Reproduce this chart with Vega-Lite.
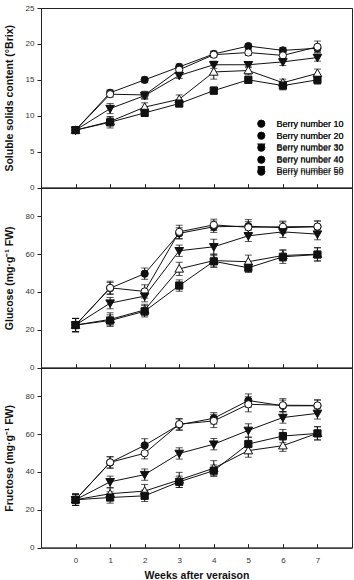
{
  "$schema": "https://vega.github.io/schema/vega-lite/v6.json",
  "padding": {"left": 3, "top": 3, "right": 2, "bottom": 0},
  "background": "white",
  "datasets": {
    "berry": [
      {"group": "Berry number 10", "week": 0, "brix": 8.0, "brix_e": 0.4, "glu": 22.5, "glu_e": 3.5, "fru": 25.3, "fru_e": 3.0},
      {"group": "Berry number 10", "week": 1, "brix": 13.2, "brix_e": 0.4, "glu": 42.0, "glu_e": 3.0, "fru": 45.0, "fru_e": 3.0},
      {"group": "Berry number 10", "week": 2, "brix": 15.0, "brix_e": 0.4, "glu": 49.7, "glu_e": 3.0, "fru": 54.1, "fru_e": 3.5},
      {"group": "Berry number 10", "week": 3, "brix": 16.8, "brix_e": 0.4, "glu": 71.0, "glu_e": 3.0, "fru": 65.0, "fru_e": 3.0},
      {"group": "Berry number 10", "week": 4, "brix": 18.6, "brix_e": 0.4, "glu": 74.5, "glu_e": 3.0, "fru": 68.4, "fru_e": 3.0},
      {"group": "Berry number 10", "week": 5, "brix": 19.7, "brix_e": 0.3, "glu": 74.8, "glu_e": 3.5, "fru": 77.8, "fru_e": 3.5},
      {"group": "Berry number 10", "week": 6, "brix": 19.1, "brix_e": 0.4, "glu": 74.0, "glu_e": 3.0, "fru": 75.0, "fru_e": 3.0},
      {"group": "Berry number 10", "week": 7, "brix": 19.4, "brix_e": 0.4, "glu": 74.5, "glu_e": 3.0, "fru": 75.0, "fru_e": 3.0},
      {"group": "Berry number 20", "week": 0, "brix": 8.0, "brix_e": 0.4, "glu": 22.5, "glu_e": 3.5, "fru": 25.3, "fru_e": 3.0},
      {"group": "Berry number 20", "week": 1, "brix": 13.0, "brix_e": 0.4, "glu": 42.2, "glu_e": 3.5, "fru": 45.1, "fru_e": 3.0},
      {"group": "Berry number 20", "week": 2, "brix": 12.9, "brix_e": 0.5, "glu": 40.3, "glu_e": 3.5, "fru": 49.9, "fru_e": 3.0},
      {"group": "Berry number 20", "week": 3, "brix": 16.4, "brix_e": 0.4, "glu": 71.8, "glu_e": 3.5, "fru": 65.3, "fru_e": 3.0},
      {"group": "Berry number 20", "week": 4, "brix": 18.5, "brix_e": 0.4, "glu": 75.5, "glu_e": 3.0, "fru": 67.0, "fru_e": 3.5},
      {"group": "Berry number 20", "week": 5, "brix": 18.8, "brix_e": 0.4, "glu": 74.2, "glu_e": 3.0, "fru": 75.8, "fru_e": 4.0},
      {"group": "Berry number 20", "week": 6, "brix": 18.4, "brix_e": 0.4, "glu": 74.5, "glu_e": 3.0, "fru": 75.3, "fru_e": 3.5},
      {"group": "Berry number 20", "week": 7, "brix": 19.6, "brix_e": 0.8, "glu": 74.6, "glu_e": 3.0, "fru": 75.2, "fru_e": 3.0},
      {"group": "Berry number 30", "week": 0, "brix": 8.0, "brix_e": 0.4, "glu": 22.5, "glu_e": 3.5, "fru": 25.3, "fru_e": 3.0},
      {"group": "Berry number 30", "week": 1, "brix": 11.0, "brix_e": 0.7, "glu": 34.1, "glu_e": 3.0, "fru": 34.8, "fru_e": 3.0},
      {"group": "Berry number 30", "week": 2, "brix": 12.8, "brix_e": 0.5, "glu": 37.8, "glu_e": 3.0, "fru": 38.6, "fru_e": 3.0},
      {"group": "Berry number 30", "week": 3, "brix": 15.6, "brix_e": 0.4, "glu": 61.8, "glu_e": 3.0, "fru": 49.8, "fru_e": 3.0},
      {"group": "Berry number 30", "week": 4, "brix": 17.1, "brix_e": 0.5, "glu": 63.9, "glu_e": 4.0, "fru": 54.7, "fru_e": 3.0},
      {"group": "Berry number 30", "week": 5, "brix": 17.1, "brix_e": 0.4, "glu": 69.7, "glu_e": 3.0, "fru": 62.0, "fru_e": 3.5},
      {"group": "Berry number 30", "week": 6, "brix": 17.5, "brix_e": 0.5, "glu": 71.8, "glu_e": 3.0, "fru": 68.8, "fru_e": 3.0},
      {"group": "Berry number 30", "week": 7, "brix": 18.1, "brix_e": 0.5, "glu": 70.6, "glu_e": 3.0, "fru": 71.0, "fru_e": 3.0},
      {"group": "Berry number 40", "week": 0, "brix": 8.0, "brix_e": 0.4, "glu": 22.5, "glu_e": 3.5, "fru": 25.3, "fru_e": 3.0},
      {"group": "Berry number 40", "week": 1, "brix": 9.2, "brix_e": 0.6, "glu": 25.5, "glu_e": 3.5, "fru": 28.5, "fru_e": 3.0},
      {"group": "Berry number 40", "week": 2, "brix": 11.2, "brix_e": 0.6, "glu": 30.5, "glu_e": 3.0, "fru": 29.9, "fru_e": 3.5},
      {"group": "Berry number 40", "week": 3, "brix": 12.3, "brix_e": 0.6, "glu": 52.2, "glu_e": 3.5, "fru": 35.8, "fru_e": 4.0},
      {"group": "Berry number 40", "week": 4, "brix": 16.1, "brix_e": 1.0, "glu": 56.6, "glu_e": 3.5, "fru": 42.0, "fru_e": 4.0},
      {"group": "Berry number 40", "week": 5, "brix": 16.3, "brix_e": 0.6, "glu": 56.0, "glu_e": 3.5, "fru": 51.3, "fru_e": 3.5},
      {"group": "Berry number 40", "week": 6, "brix": 14.6, "brix_e": 0.5, "glu": 59.3, "glu_e": 3.0, "fru": 53.9, "fru_e": 3.0},
      {"group": "Berry number 40", "week": 7, "brix": 15.9, "brix_e": 0.6, "glu": 60.0, "glu_e": 3.5, "fru": 60.5, "fru_e": 3.5},
      {"group": "Berry number 50", "week": 0, "brix": 8.0, "brix_e": 0.4, "glu": 22.5, "glu_e": 3.5, "fru": 25.3, "fru_e": 3.0},
      {"group": "Berry number 50", "week": 1, "brix": 9.1, "brix_e": 0.8, "glu": 24.9, "glu_e": 3.0, "fru": 26.5, "fru_e": 3.0},
      {"group": "Berry number 50", "week": 2, "brix": 10.4, "brix_e": 0.4, "glu": 29.8, "glu_e": 3.0, "fru": 27.4, "fru_e": 3.0},
      {"group": "Berry number 50", "week": 3, "brix": 11.7, "brix_e": 0.4, "glu": 43.4, "glu_e": 3.0, "fru": 34.8, "fru_e": 3.0},
      {"group": "Berry number 50", "week": 4, "brix": 13.5, "brix_e": 0.5, "glu": 56.2, "glu_e": 3.0, "fru": 40.7, "fru_e": 3.0},
      {"group": "Berry number 50", "week": 5, "brix": 15.0, "brix_e": 0.4, "glu": 52.8, "glu_e": 2.5, "fru": 54.8, "fru_e": 3.5},
      {"group": "Berry number 50", "week": 6, "brix": 14.2, "brix_e": 0.6, "glu": 58.6, "glu_e": 3.5, "fru": 59.0, "fru_e": 3.5},
      {"group": "Berry number 50", "week": 7, "brix": 15.0, "brix_e": 0.6, "glu": 59.8, "glu_e": 3.5, "fru": 60.4, "fru_e": 3.5}
    ]
  },
  "data": {"name": "berry"},
  "spacing": 0,
  "bounds": "flush",
  "resolve": {"scale": {"shape": "independent", "fill": "independent"}, "legend": {"shape": "independent", "fill": "independent"}},
  "vconcat": [
    {
      "width": 311,
      "height": 179.6,
      "encoding": {
        "x": {"field": "week", "type": "quantitative", "scale": {"domain": [-1, 8], "nice": false}, "axis": {"values": [0, 1, 2, 3, 4, 5, 6, 7], "labels": false, "title": null, "tickSize": -4}},
        "y": {"field": "brix", "type": "quantitative", "scale": {"domain": [0, 25], "nice": false}, "axis": {"values": [0, 5, 10, 15, 20, 25], "title": "Soluble solids content (°Brix)"}}
      },
      "resolve": {"scale": {"shape": "independent", "fill": "independent"}},
      "layer": [
        {
          "mark": {"type": "errorbar", "ticks": {"size": 7, "color": "#111"}, "rule": {"color": "#111"}, "thickness": 1},
          "encoding": {"yError": {"field": "brix_e"}}
        },
        {
          "mark": {"type": "line", "color": "#111", "strokeWidth": 1},
          "encoding": {"detail": {"field": "group", "type": "nominal"}}
        },
        {
          "mark": {"type": "point", "filled": true, "opacity": 1, "size": 52, "stroke": "#111", "strokeWidth": 1},
          "encoding": {
            "shape": {
              "field": "group", "type": "nominal",
              "scale": {"domain": ["Berry number 10", "Berry number 20", "Berry number 30", "Berry number 40", "Berry number 50"], "range": ["circle", "circle", "M-1.2,-0.9L1.2,-0.9L0,1.2Z", "M0,-1.2L1.2,0.9L-1.2,0.9Z", "square"]},
              "legend": null
            },
            "fill": {
              "field": "group", "type": "nominal",
              "scale": {"domain": ["Berry number 10", "Berry number 20", "Berry number 30", "Berry number 40", "Berry number 50"], "range": ["#111", "white", "#111", "white", "#111"]},
              "legend": null
            }
          }
        },
        {
          "mark": {"type": "point", "filled": true, "opacity": 0, "size": 52, "strokeWidth": 1},
          "encoding": {
            "stroke": {
              "field": "group", "type": "nominal",
              "scale": {"domain": ["Berry number 10", "Berry number 20", "Berry number 30", "Berry number 40", "Berry number 50"], "range": ["#111", "#111", "#111", "#111", "#111"]},
              "legend": {
                "title": null, "orient": "none", "legendX": 215.8, "legendY": 111.2, "padding": 0,
                "symbolSize": 52, "symbolStrokeWidth": 1, "symbolOpacity": 1,
                "labelFontSize": 9, "labelFont": "Liberation Sans", "labelColor": "#111",
                "labelOffset": 10.8, "rowPadding": -1
              }
            },
            "shape": {
              "field": "group", "type": "nominal",
              "scale": {"domain": ["Berry number 10", "Berry number 20", "Berry number 30", "Berry number 40", "Berry number 50"], "range": [
                "M-2.7,0H-1M1,0H2.7M-1,0A1,1,0,1,1,1,0A1,1,0,1,1,-1,0Z",
                "M-2.7,0H-1M1,0H2.7M-1,0A1,1,0,1,1,1,0A1,1,0,1,1,-1,0Z",
                "M-2.7,0H-0.69M0.69,0H2.7M-1.2,-0.9L1.2,-0.9L0,1.2Z",
                "M-2.7,0H-0.69M0.69,0H2.7M0,-1.2L1.2,0.9L-1.2,0.9Z",
                "M-2.7,0H-1M1,0H2.7M-1,-1H1V1H-1Z"
              ]},
              "legend": {
                "title": null, "orient": "none", "legendX": 215.8, "legendY": 111.2, "padding": 0,
                "symbolSize": 52, "symbolStrokeWidth": 1, "symbolOpacity": 1,
                "labelFontSize": 9, "labelFont": "Liberation Sans", "labelColor": "#111",
                "labelOffset": 10.8, "rowPadding": -1
              }
            },
            "fill": {
              "field": "group", "type": "nominal",
              "scale": {"domain": ["Berry number 10", "Berry number 20", "Berry number 30", "Berry number 40", "Berry number 50"], "range": ["#111", "white", "#111", "white", "#111"]},
              "legend": {
                "title": null, "orient": "none", "legendX": 215.8, "legendY": 111.2, "padding": 0,
                "symbolSize": 52, "symbolStrokeWidth": 1, "symbolOpacity": 1,
                "labelFontSize": 9, "labelFont": "Liberation Sans", "labelColor": "#111",
                "labelOffset": 10.8, "rowPadding": -1
              }
            }
          }
        }
      ]
    },
    {
      "width": 311,
      "height": 179.6,
      "encoding": {
        "x": {"field": "week", "type": "quantitative", "scale": {"domain": [-1, 8], "nice": false}, "axis": {"values": [0, 1, 2, 3, 4, 5, 6, 7], "labels": false, "title": null, "tickSize": -4}},
        "y": {"field": "glu", "type": "quantitative", "scale": {"domain": [0, 95], "nice": false}, "axis": {"values": [0, 20, 40, 60, 80], "title": "Glucose (mg·g⁻¹ FW)"}}
      },
      "layer": [
        {
          "mark": {"type": "errorbar", "ticks": {"size": 7, "color": "#111"}, "rule": {"color": "#111"}, "thickness": 1},
          "encoding": {"yError": {"field": "glu_e"}}
        },
        {
          "mark": {"type": "line", "color": "#111", "strokeWidth": 1},
          "encoding": {"detail": {"field": "group", "type": "nominal"}}
        },
        {
          "mark": {"type": "point", "filled": true, "opacity": 1, "size": 52, "stroke": "#111", "strokeWidth": 1},
          "encoding": {
            "shape": {
              "field": "group", "type": "nominal",
              "scale": {"domain": ["Berry number 10", "Berry number 20", "Berry number 30", "Berry number 40", "Berry number 50"], "range": ["circle", "circle", "M-1.2,-0.9L1.2,-0.9L0,1.2Z", "M0,-1.2L1.2,0.9L-1.2,0.9Z", "square"]},
              "legend": null
            },
            "fill": {
              "field": "group", "type": "nominal",
              "scale": {"domain": ["Berry number 10", "Berry number 20", "Berry number 30", "Berry number 40", "Berry number 50"], "range": ["#111", "white", "#111", "white", "#111"]},
              "legend": null
            }
          }
        }
      ]
    },
    {
      "width": 311,
      "height": 179.6,
      "encoding": {
        "x": {"field": "week", "type": "quantitative", "scale": {"domain": [-1, 8], "nice": false}, "axis": {"values": [0, 1, 2, 3, 4, 5, 6, 7], "title": "Weeks after veraison", "tickSize": -4, "labelPadding": 13, "titlePadding": 6}},
        "y": {"field": "fru", "type": "quantitative", "scale": {"domain": [0, 95], "nice": false}, "axis": {"values": [0, 20, 40, 60, 80], "title": "Fructose (mg·g⁻¹ FW)"}}
      },
      "layer": [
        {
          "mark": {"type": "errorbar", "ticks": {"size": 7, "color": "#111"}, "rule": {"color": "#111"}, "thickness": 1},
          "encoding": {"yError": {"field": "fru_e"}}
        },
        {
          "mark": {"type": "line", "color": "#111", "strokeWidth": 1},
          "encoding": {"detail": {"field": "group", "type": "nominal"}}
        },
        {
          "mark": {"type": "point", "filled": true, "opacity": 1, "size": 52, "stroke": "#111", "strokeWidth": 1},
          "encoding": {
            "shape": {
              "field": "group", "type": "nominal",
              "scale": {"domain": ["Berry number 10", "Berry number 20", "Berry number 30", "Berry number 40", "Berry number 50"], "range": ["circle", "circle", "M-1.2,-0.9L1.2,-0.9L0,1.2Z", "M0,-1.2L1.2,0.9L-1.2,0.9Z", "square"]},
              "legend": null
            },
            "fill": {
              "field": "group", "type": "nominal",
              "scale": {"domain": ["Berry number 10", "Berry number 20", "Berry number 30", "Berry number 40", "Berry number 50"], "range": ["#111", "white", "#111", "white", "#111"]},
              "legend": null
            }
          }
        }
      ]
    }
  ],
  "config": {
    "font": "Liberation Sans",
    "view": {"stroke": "#222", "strokeWidth": 1},
    "axis": {
      "grid": false,
      "labelOverlap": false,
      "domainColor": "#222",
      "tickColor": "#222",
      "tickSize": 4,
      "labelPadding": 3,
      "labelFont": "Liberation Sans",
      "labelFontSize": 8,
      "labelColor": "#333",
      "titleFont": "Liberation Sans",
      "titleFontSize": 10.5,
      "titleFontWeight": "bold",
      "titleColor": "#111"
    },
    "axisY": {"titlePadding": 11}
  }
}
